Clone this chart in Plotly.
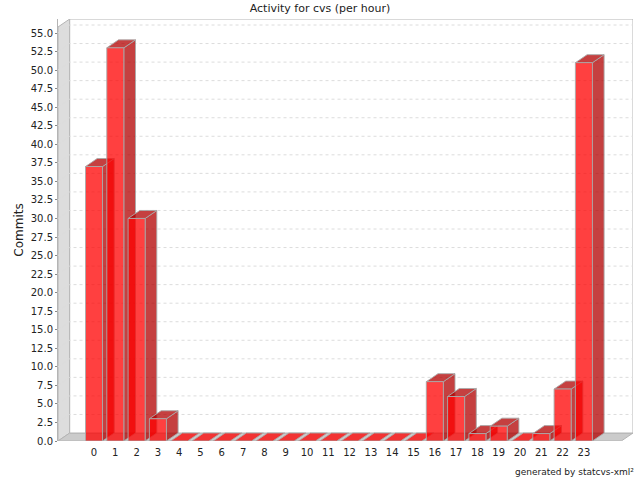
import plotly.graph_objects as go

hours = list(range(24))
commits = [37, 53, 30, 3, 0, 0, 0, 0, 0, 0, 0, 0, 0, 0, 0, 0, 8, 6, 1, 2, 0, 1, 7, 51]
y_ticks = [i * 2.5 for i in range(23)]
title = "Activity for cvs (per hour)"
y_title = "Commits"
credit = "generated by statcvs-xml²"

W, H = 640, 480
L, R, T, B = 58, 633, 19, 441
PX_X = 21.3
PX_Y = 7.418
x0_px = 94
DX = 11.7 / PX_X
DY = 8 / PX_Y
HALF = 8.5 / PX_X
xmin = (L - x0_px) / PX_X
xmax = (R - x0_px) / PX_X
ymax = (B - T) / PX_Y
left_back = xmin + DX
right_front = xmax - DX
GRAY = "#b4b4b4"

fig = go.Figure()


def poly(xs, ys, fill, line=GRAY, width=1):
    fig.add_trace(go.Scatter(
        x=xs + xs[:1], y=ys + ys[:1], mode="lines", fill="toself",
        fillcolor=fill, line=dict(color=line, width=width),
        hoverinfo="skip", showlegend=False))


# walls
poly([xmin, left_back, left_back, xmin], [0, DY, ymax, ymax - DY], "#dddddd")
poly([xmin, right_front, xmax, left_back], [0, 0, DY, DY], "#cbcbcb")
poly([left_back, xmax, xmax, left_back], [DY, DY, ymax, ymax], "#ffffff")

# grid
for t in y_ticks[1:]:
    fig.add_trace(go.Scatter(
        x=[xmin, left_back, xmax], y=[t, t + DY, t + DY], mode="lines",
        line=dict(color="#dcdcdc", width=1, dash="3px,3px"),
        hoverinfo="skip", showlegend=False))

# bars
for h, v in zip(hours, commits):
    a, b = h - HALF, h + HALF
    dark = "rgba(178,0,0,0.75)"
    edge = "rgba(170,170,170,0.9)"
    if v > 0:
        poly([b, b + DX, b + DX, b], [0, DY, v + DY, v], dark, edge)
    poly([a, b, b + DX, a + DX], [v, v, v + DY, v + DY], dark if v > 0 else "rgba(255,0,0,0.75)", edge)
    if v > 0:
        poly([a, b, b, a], [0, 0, v, v], "rgba(255,0,0,0.75)", edge)

fig.add_annotation(text=credit, xref="paper", yref="paper", x=(636 - L) / (R - L),
                   y=(B - 472) / (B - T), xanchor="right", yanchor="middle",
                   showarrow=False, font=dict(size=9, color="#222222"))

fig.update_layout(
    width=W, height=H, autosize=False,
    margin=dict(l=L, r=W - R, t=T, b=H - B),
    paper_bgcolor="white", plot_bgcolor="white",
    font=dict(family="DejaVu Sans", color="#222222"),
    title=dict(text=title, x=320 / W, xanchor="center", y=1 - 8 / H, yanchor="middle",
               font=dict(size=11, color="#222222")),
    xaxis=dict(range=[xmin, xmax], tickmode="array", tickvals=hours,
               ticktext=[str(h) for h in hours], showgrid=False, zeroline=False,
               ticks="outside", ticklen=2, tickcolor="rgba(0,0,0,0)", tickfont=dict(size=10)),
    yaxis=dict(range=[0, ymax], tickmode="array", tickvals=y_ticks,
               ticktext=[f"{t:.1f}" for t in y_ticks], showgrid=False, zeroline=False,
               ticks="outside", ticklen=2, tickcolor="#888888", tickfont=dict(size=10),
               showline=True, linecolor=GRAY,
               title=dict(text=y_title, font=dict(size=12), standoff=4)),
)
fig.write_html("out.html", config={"displayModeBar": False},
               post_script="document.body.style.margin='0';")
